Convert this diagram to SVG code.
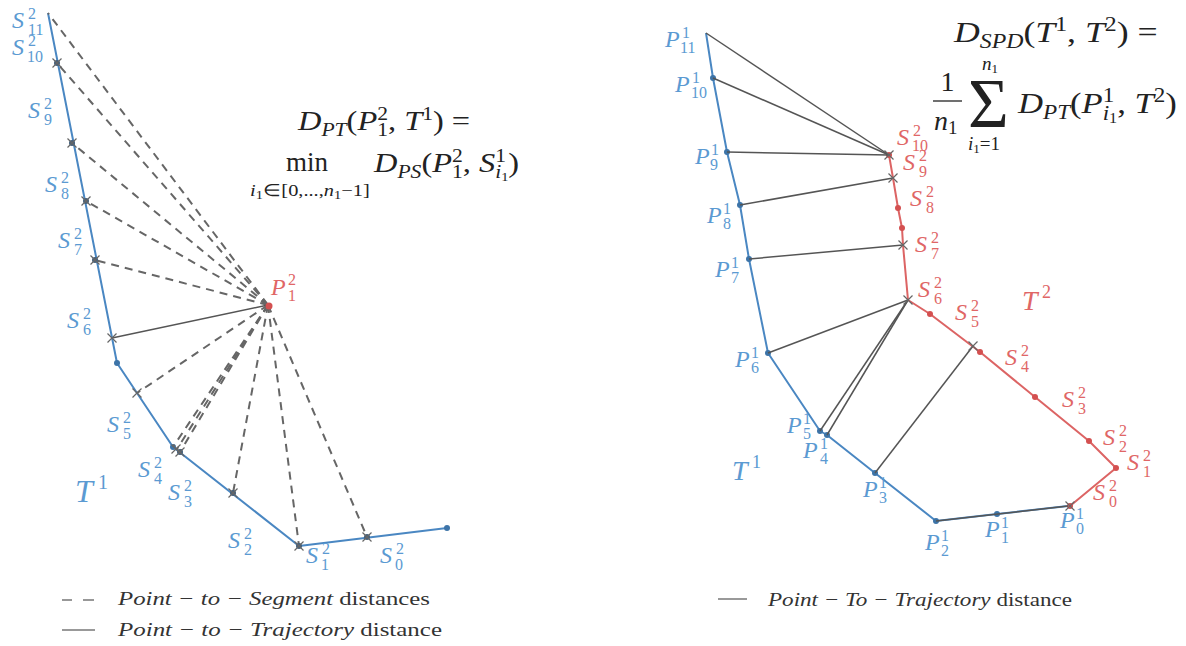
<svg xmlns="http://www.w3.org/2000/svg" width="1186" height="646" viewBox="0 0 1186 646" font-family="'Times New Roman', 'Liberation Serif', Times, serif">
<defs>
<style>
.tb{fill:none;stroke:#4a87c2;stroke-width:2;stroke-linejoin:round}
.tr{fill:none;stroke:#dc6464;stroke-width:2;stroke-linejoin:round}
.ds{fill:none;stroke:#666;stroke-width:2;stroke-dasharray:8 6}
.sl{fill:none;stroke:#555;stroke-width:1.5}
.xm{stroke:#666;stroke-width:1.2;fill:none}
.db{fill:#3d74a8}
.dr{fill:#d45050}
.dk{fill:#44607c}
text{font-family:"Times New Roman","Liberation Serif",Times,serif}
.m{font-style:italic;font-size:24px}
.s{font-size:16px}
.b{fill:#5b9ad2}
.r{fill:#e06666}
.k{fill:#222}
.it{font-style:italic}
.lg{font-size:19px;fill:#333}
</style>
<path id="x" d="M-4.5,-4.5L4.5,4.5M-4.5,4.5L4.5,-4.5" class="xm"/>
</defs>
<rect width="1186" height="646" fill="#fff"/>

<!-- LEFT PANEL -->
<g id="left-T1">
<polyline class="tb" points="48,13 117,363 173,447 299,546 447,528"/>
<circle class="db" cx="117" cy="363" r="3"/>
<circle class="db" cx="173" cy="447" r="3"/>
<circle class="db" cx="447" cy="528" r="3"/>
</g>
<g id="left-connectors">
<g class="ds">
<line x1="268" y1="305" x2="48" y2="13"/>
<line x1="268" y1="305" x2="57" y2="63"/>
<line x1="268" y1="305" x2="72" y2="143"/>
<line x1="268" y1="305" x2="86" y2="201"/>
<line x1="268" y1="305" x2="95" y2="260"/>
<line x1="268" y1="305" x2="137" y2="393"/>
<line x1="268" y1="305" x2="173" y2="447"/>
<line x1="268" y1="305" x2="177" y2="449"/>
<line x1="268" y1="305" x2="180" y2="452"/>
<line x1="268" y1="305" x2="233" y2="493"/>
<line x1="268" y1="305" x2="299" y2="546"/>
<line x1="268" y1="305" x2="367" y2="537"/>
</g>
<line class="sl" x1="268" y1="305" x2="112" y2="338"/>
</g>
<g id="left-marks">
<circle class="dk" cx="57" cy="63" r="3"/>
<circle class="dk" cx="72" cy="143" r="3"/>
<circle class="dk" cx="86" cy="201" r="3"/>
<circle class="dk" cx="95" cy="260" r="3"/>
<circle class="dk" cx="180" cy="452" r="3"/>
<circle class="dk" cx="233" cy="493" r="3"/>
<circle class="dk" cx="299" cy="546" r="3"/>
<circle class="dk" cx="367" cy="537" r="3"/>
<use href="#x" x="57" y="63"/><use href="#x" x="72" y="143"/><use href="#x" x="86" y="201"/>
<use href="#x" x="95" y="260"/><use href="#x" x="112" y="338"/><use href="#x" x="137" y="393"/>
<use href="#x" x="176" y="449"/><use href="#x" x="180" y="452"/><use href="#x" x="233" y="493"/>
<use href="#x" x="299" y="546"/><use href="#x" x="367" y="537"/>
</g>
<g id="left-P21">
<circle class="dr" cx="269" cy="306" r="3.5"/>
<g class="r"><text class="m" x="271" y="295">P</text><text class="s" x="288" y="285">2</text><text class="s" x="288" y="301">1</text></g>
</g>
<g id="left-labels" class="b">
<g id="lS11"><text class="m" x="12" y="28">S</text><text class="s" x="28" y="19">2</text><text class="s" x="28" y="35">11</text></g>
<g id="lS10"><text class="m" x="12" y="55">S</text><text class="s" x="28" y="46">2</text><text class="s" x="27" y="62">10</text></g>
<g id="lS9"><text class="m" x="28" y="118">S</text><text class="s" x="44" y="109">2</text><text class="s" x="44" y="125">9</text></g>
<g id="lS8"><text class="m" x="45" y="192">S</text><text class="s" x="61" y="183">2</text><text class="s" x="61" y="199">8</text></g>
<g id="lS7"><text class="m" x="58" y="248">S</text><text class="s" x="74" y="239">2</text><text class="s" x="74" y="255">7</text></g>
<g id="lS6"><text class="m" x="67" y="328">S</text><text class="s" x="83" y="319">2</text><text class="s" x="83" y="335">6</text></g>
<g id="lS5"><text class="m" x="107" y="432">S</text><text class="s" x="123" y="423">2</text><text class="s" x="123" y="439">5</text></g>
<g id="lS4"><text class="m" x="138" y="477">S</text><text class="s" x="154" y="468">2</text><text class="s" x="154" y="484">4</text></g>
<g id="lS3"><text class="m" x="168" y="500">S</text><text class="s" x="184" y="491">2</text><text class="s" x="184" y="507">3</text></g>
<g id="lS2"><text class="m" x="228" y="548">S</text><text class="s" x="244" y="539">2</text><text class="s" x="244" y="555">2</text></g>
<g id="lS1"><text class="m" x="306" y="563">S</text><text class="s" x="322" y="554">2</text><text class="s" x="321" y="570">1</text></g>
<g id="lS0"><text class="m" x="380" y="563">S</text><text class="s" x="396" y="554">2</text><text class="s" x="395" y="570">0</text></g>
<g id="lT1"><text class="it" font-size="32" x="75" y="502">T</text><text font-size="20" x="98" y="489">1</text></g>
</g>
<g id="left-formula" class="k">
<g transform="translate(298,130) scale(1.2,1)"><text font-size="27"><tspan class="it">D</tspan><tspan class="it" font-size="18" dy="6">PT</tspan><tspan dy="-6">(</tspan><tspan class="it">P</tspan><tspan font-size="18" dy="-10">2</tspan><tspan font-size="18" dx="-9" dy="16">1</tspan><tspan dy="-6">, </tspan><tspan class="it">T</tspan><tspan font-size="18" dy="-10">1</tspan><tspan dy="10">) =</tspan></text></g>
<text font-size="27" x="286" y="171">min</text>
<g transform="translate(250,196) scale(1.2,1)"><text font-size="17"><tspan class="it">i</tspan><tspan font-size="12" dy="3">1</tspan><tspan dy="-3">∈[0,...,</tspan><tspan class="it">n</tspan><tspan font-size="12" dy="3">1</tspan><tspan dy="-3">−1]</tspan></text></g>
<g transform="translate(374,172) scale(1.2,1)"><text font-size="27"><tspan class="it">D</tspan><tspan class="it" font-size="18" dy="6">PS</tspan><tspan dy="-6">(</tspan><tspan class="it">P</tspan><tspan font-size="18" dy="-10">2</tspan><tspan font-size="18" dx="-9" dy="16">1</tspan><tspan dy="-6">, </tspan><tspan class="it">S</tspan><tspan font-size="18" dy="-10">1</tspan><tspan class="it" font-size="18" dx="-9" dy="16">i</tspan><tspan font-size="12" dy="3">1</tspan><tspan dy="-9">)</tspan></text></g>
</g>
<g id="left-legend">
<path d="M62,600H72M83,600H94" stroke="#777" stroke-width="1.5"/>
<text class="lg" x="118" y="605" textLength="312" lengthAdjust="spacingAndGlyphs"><tspan class="it">Point − to − Segment</tspan> distances</text>
<path d="M62,630H95" stroke="#777" stroke-width="1.5"/>
<text class="lg" x="118" y="636" textLength="324" lengthAdjust="spacingAndGlyphs"><tspan class="it">Point − to − Trajectory</tspan> distance</text>
</g>

<!-- RIGHT PANEL -->
<g id="right-T1">
<polyline class="tb" points="706,33 713,78 727,152 740,205 749,259 768,353 820,431 827,435 875,473 936,521 997,514 1068,506"/>
<g class="db">
<circle cx="713" cy="78" r="3"/><circle cx="727" cy="152" r="3"/><circle cx="740" cy="205" r="3"/>
<circle cx="749" cy="259" r="3"/><circle cx="768" cy="353" r="3"/><circle cx="820" cy="431" r="3"/>
<circle cx="827" cy="435" r="3"/><circle cx="875" cy="473" r="3"/><circle cx="936" cy="521" r="3"/>
<circle cx="997" cy="514" r="3"/>
</g>
</g>
<g id="right-T2">
<polyline class="tr" points="889,155 893,178 898,208 902,228 903,245 908,300 930,314 980,352 1035,397 1089,441 1116,468 1070,506"/>
<g class="dr">
<circle cx="889" cy="155" r="3"/><circle cx="898" cy="208" r="3"/><circle cx="902" cy="228" r="3"/>
<circle cx="930" cy="314" r="3"/><circle cx="980" cy="352" r="3"/><circle cx="1035" cy="397" r="3"/>
<circle cx="1089" cy="441" r="3"/><circle cx="1116" cy="468" r="3"/><circle cx="1070" cy="506" r="3"/>
</g>
</g>
<g id="right-connectors" class="sl">
<line x1="706" y1="33" x2="889" y2="155"/>
<line x1="713" y1="78" x2="889" y2="155"/>
<line x1="727" y1="152" x2="889" y2="155"/>
<line x1="740" y1="205" x2="893" y2="178"/>
<line x1="749" y1="259" x2="903" y2="245"/>
<line x1="768" y1="353" x2="908" y2="300"/>
<line x1="820" y1="431" x2="908" y2="300"/>
<line x1="827" y1="435" x2="908" y2="300"/>
<line x1="875" y1="473" x2="973" y2="346"/>
<line x1="936" y1="521" x2="1068" y2="506"/>
</g>
<g id="right-marks">
<use href="#x" x="889" y="155"/><use href="#x" x="893" y="178"/><use href="#x" x="903" y="245"/>
<use href="#x" x="908" y="300"/><use href="#x" x="973" y="346"/><use href="#x" x="1070" y="506"/>
</g>
<g id="right-P-labels" class="b">
<g id="rP11"><text class="m" x="665" y="47">P</text><text class="s" x="682" y="38">1</text><text class="s" x="680" y="53">11</text></g>
<g id="rP10"><text class="m" x="675" y="92">P</text><text class="s" x="692" y="83">1</text><text class="s" x="691" y="98">10</text></g>
<g id="rP9"><text class="m" x="695" y="164">P</text><text class="s" x="711" y="155">1</text><text class="s" x="710" y="170">9</text></g>
<g id="rP8"><text class="m" x="707" y="223">P</text><text class="s" x="723" y="214">1</text><text class="s" x="723" y="229">8</text></g>
<g id="rP7"><text class="m" x="715" y="277">P</text><text class="s" x="731" y="268">1</text><text class="s" x="731" y="283">7</text></g>
<g id="rP6"><text class="m" x="735" y="367">P</text><text class="s" x="751" y="358">1</text><text class="s" x="751" y="373">6</text></g>
<g id="rP5"><text class="m" x="787" y="433">P</text><text class="s" x="803" y="424">1</text><text class="s" x="803" y="439">5</text></g>
<g id="rP4"><text class="m" x="803" y="458">P</text><text class="s" x="820" y="449">1</text><text class="s" x="820" y="464">4</text></g>
<g id="rP3"><text class="m" x="863" y="497">P</text><text class="s" x="879" y="488">1</text><text class="s" x="879" y="503">3</text></g>
<g id="rP2"><text class="m" x="925" y="550">P</text><text class="s" x="941" y="541">1</text><text class="s" x="941" y="556">2</text></g>
<g id="rP1"><text class="m" x="985" y="537">P</text><text class="s" x="1001" y="528">1</text><text class="s" x="1001" y="543">1</text></g>
<g id="rP0"><text class="m" x="1060" y="528">P</text><text class="s" x="1076" y="519">1</text><text class="s" x="1076" y="534">0</text></g>
<g id="rT1"><text class="it" font-size="28" x="732" y="480">T</text><text font-size="18" x="752" y="468">1</text></g>
</g>
<g id="right-S-labels" class="r">
<g id="rS10"><text class="m" x="897" y="145">S</text><text class="s" x="913" y="136">2</text><text class="s" x="912" y="151">10</text></g>
<g id="rS9"><text class="m" x="903" y="170">S</text><text class="s" x="919" y="161">2</text><text class="s" x="919" y="177">9</text></g>
<g id="rS8"><text class="m" x="910" y="206">S</text><text class="s" x="926" y="197">2</text><text class="s" x="926" y="213">8</text></g>
<g id="rS7"><text class="m" x="915" y="252">S</text><text class="s" x="931" y="243">2</text><text class="s" x="931" y="259">7</text></g>
<g id="rS6"><text class="m" x="918" y="297">S</text><text class="s" x="934" y="288">2</text><text class="s" x="934" y="304">6</text></g>
<g id="rS5"><text class="m" x="955" y="320">S</text><text class="s" x="971" y="311">2</text><text class="s" x="971" y="327">5</text></g>
<g id="rS4"><text class="m" x="1005" y="365">S</text><text class="s" x="1021" y="356">2</text><text class="s" x="1021" y="372">4</text></g>
<g id="rS3"><text class="m" x="1062" y="407">S</text><text class="s" x="1078" y="398">2</text><text class="s" x="1078" y="414">3</text></g>
<g id="rS2"><text class="m" x="1103" y="445">S</text><text class="s" x="1119" y="436">2</text><text class="s" x="1119" y="452">2</text></g>
<g id="rS1"><text class="m" x="1127" y="470">S</text><text class="s" x="1143" y="461">2</text><text class="s" x="1143" y="477">1</text></g>
<g id="rS0"><text class="m" x="1093" y="500">S</text><text class="s" x="1109" y="491">2</text><text class="s" x="1109" y="507">0</text></g>
<g id="rT2"><text class="it" font-size="28" x="1022" y="310">T</text><text font-size="18" x="1042" y="298">2</text></g>
</g>
<g id="right-formula" class="k">
<g transform="translate(954,42) scale(1.19,1)"><text font-size="30"><tspan class="it">D</tspan><tspan class="it" font-size="20" dy="6">SPD</tspan><tspan dy="-6">(</tspan><tspan class="it">T</tspan><tspan font-size="20" dy="-11">1</tspan><tspan dy="11">, </tspan><tspan class="it">T</tspan><tspan font-size="20" dy="-11">2</tspan><tspan dy="11">) =</tspan></text></g>
<text font-size="28" x="947.5" y="91" text-anchor="middle">1</text>
<line x1="933" y1="101" x2="962" y2="101" stroke="#222" stroke-width="1.3"/>
<text x="934" y="130"><tspan class="it" font-size="28">n</tspan><tspan font-size="19" dy="4">1</tspan></text>
<text font-size="70" x="968" y="127">Σ</text>
<text x="982" y="70"><tspan class="it" font-size="19">n</tspan><tspan font-size="13" dy="3">1</tspan></text>
<text x="968" y="150"><tspan class="it" font-size="19">i</tspan><tspan font-size="13" dy="3">1</tspan><tspan font-size="19" dy="-3">=1</tspan></text>
<g transform="translate(1018,113) scale(1.155,1)"><text font-size="30"><tspan class="it">D</tspan><tspan class="it" font-size="20" dy="6">PT</tspan><tspan dy="-6">(</tspan><tspan class="it">P</tspan><tspan font-size="20" dy="-11">1</tspan><tspan class="it" font-size="20" dx="-10" dy="18">i</tspan><tspan font-size="14" dy="3">1</tspan><tspan dy="-10">, </tspan><tspan class="it">T</tspan><tspan font-size="20" dy="-11">2</tspan><tspan dy="11">)</tspan></text></g>
</g>
<g id="right-legend">
<path d="M718,599H747" stroke="#777" stroke-width="1.5"/>
<text class="lg" x="768" y="606" textLength="304" lengthAdjust="spacingAndGlyphs"><tspan class="it">Point − To − Trajectory</tspan> distance</text>
</g>
</svg>
